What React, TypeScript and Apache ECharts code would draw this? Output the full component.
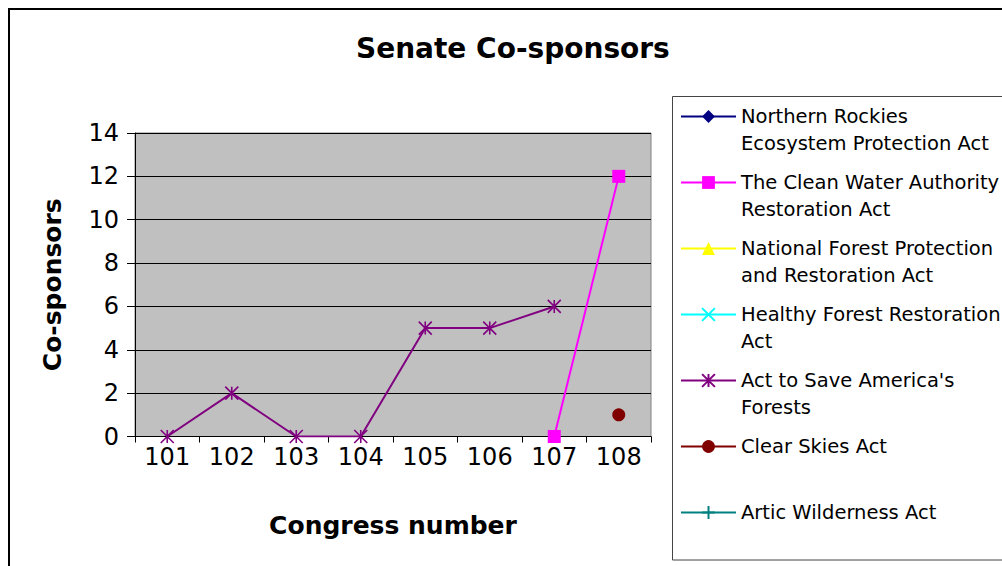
import { useEffect, useRef } from "react";
import * as echarts from "echarts";

// Congress numbers along the x axis
const congresses = ["101", "102", "103", "104", "105", "106", "107", "108"];

// Senate co-sponsor counts per bill (null = not introduced in that Congress)
const northernRockies: (number | null)[] = [null, null, null, null, null, null, null, null];
const cleanWater: (number | null)[] = [null, null, null, null, null, null, 0, 12];
const nationalForest: (number | null)[] = [null, null, null, null, null, null, null, null];
const healthyForest: (number | null)[] = [null, null, null, null, null, null, null, null];
const saveForests: (number | null)[] = [0, 2, 0, 0, 5, 5, 6, null];
const clearSkies: (number | null)[] = [null, null, null, null, null, null, null, 1];
const articWilderness: (number | null)[] = [null, null, null, null, null, null, null, null];

const billNames = [
  "Northern Rockies Ecosystem Protection Act",
  "The Clean Water Authority Restoration Act",
  "National Forest Protection and Restoration Act",
  "Healthy Forest Restoration Act",
  "Act to Save America's Forests",
  "Clear Skies Act",
  "Artic Wilderness Act",
];

// Legend labels as wrapped in the key box. Each label gets an empty leading
// line so the key symbol lines up with the first text line.
const legendLines: Record<string, string[]> = {
  "Northern Rockies Ecosystem Protection Act": ["Northern Rockies", "Ecosystem Protection Act"],
  "The Clean Water Authority Restoration Act": ["The Clean Water Authority", "Restoration Act"],
  "National Forest Protection and Restoration Act": ["National Forest Protection", "and Restoration Act"],
  "Healthy Forest Restoration Act": ["Healthy Forest Restoration", "Act"],
  "Act to Save America's Forests": ["Act to Save America's", "Forests"],
  "Clear Skies Act": ["Clear Skies Act", " "],
  "Artic Wilderness Act": ["Artic Wilderness Act", " "],
};

const yMin = 0;
const yMax = 14;
const yStep = 2;

const FONT = "'DejaVu Sans', 'Liberation Sans', Arial, sans-serif";

const ASTERISK = "path://M0,0L10,10M10,0L0,10M5,0L5,10";
const CROSS = "path://M0,0L10,10M10,0L0,10";
const PLUS = "path://M5,0L5,10M0,5L10,5";

function lineSeries(
  name: string,
  data: (number | null)[],
  color: string,
  symbol: string,
  symbolSize: number,
  stroked: boolean
) {
  return {
    type: "line",
    name,
    data,
    symbol,
    symbolSize,
    showSymbol: true,
    connectNulls: false,
    lineStyle: { color, width: 2 },
    itemStyle: stroked
      ? { color, borderColor: color, borderWidth: 1.6 }
      : { color, borderWidth: 0 },
    emphasis: { disabled: true },
  };
}

export default function App() {
  const ref = useRef<HTMLDivElement>(null);

  useEffect(() => {
    if (!ref.current) return;
    const chart = echarts.init(ref.current, null, { renderer: "svg" });

    chart.setOption({
      animation: false,
      backgroundColor: "#ffffff",
      title: {
        text: "Senate Co-sponsors",
        left: 356,
        top: 34,
        padding: 0,
        textStyle: {
          fontFamily: FONT,
          fontWeight: "bold",
          fontSize: 28,
          color: "#000",
        },
      },
      legend: {
        orient: "vertical",
        left: 680,
        top: 76,
        padding: 0,
        itemWidth: 55,
        itemHeight: 16,
        itemGap: -15,
        selectedMode: false,
        data: billNames,
        formatter: (name: string) => "\n" + (legendLines[name] ?? [name, " "]).join("\n"),
        textStyle: {
          fontFamily: FONT,
          fontSize: 19.5,
          lineHeight: 27,
          color: "#000",
        },
      },
      grid: {
        left: 135,
        top: 133,
        right: 351,
        bottom: 129.5,
        show: true,
        backgroundColor: "#C0C0C0",
        borderColor: "#808080",
        borderWidth: 1,
      },
      xAxis: {
        type: "category",
        data: congresses,
        boundaryGap: true,
        name: "Congress number",
        nameLocation: "middle",
        nameGap: 76,
        nameTextStyle: {
          fontFamily: FONT,
          fontWeight: "bold",
          fontSize: 25,
          color: "#000",
        },
        axisLine: { show: true, lineStyle: { color: "#000", width: 1 } },
        axisTick: { show: true, length: 6, lineStyle: { color: "#000" } },
        axisLabel: {
          fontFamily: FONT,
          fontSize: 24,
          color: "#000",
          margin: 8,
        },
        splitLine: { show: false },
      },
      yAxis: {
        type: "value",
        min: yMin,
        max: yMax,
        interval: yStep,
        name: "Co-sponsors",
        nameLocation: "middle",
        nameGap: 70,
        nameTextStyle: {
          fontFamily: FONT,
          fontWeight: "bold",
          fontSize: 25,
          color: "#000",
        },
        axisLine: { show: true, lineStyle: { color: "#000", width: 1 } },
        axisTick: { show: true, length: 8, lineStyle: { color: "#000" } },
        axisLabel: {
          fontFamily: FONT,
          fontSize: 24,
          color: "#000",
          margin: 16,
        },
        splitLine: { show: true, lineStyle: { color: "#000", width: 1 } },
      },
      graphic: [
        {
          type: "rect",
          shape: { x: 9, y: 9, width: 1100, height: 700 },
          style: { fill: "none", stroke: "#000", lineWidth: 2 },
          silent: true,
        },
        {
          type: "rect",
          shape: { x: 672.5, y: 96.5, width: 360, height: 463.5 },
          style: { fill: "none", stroke: "#444", lineWidth: 1 },
          silent: true,
        },
      ],
      series: [
        lineSeries(billNames[0], northernRockies, "#000080", "diamond", 13, false),
        lineSeries(billNames[1], cleanWater, "#FF00FF", "rect", 13, false),
        lineSeries(billNames[2], nationalForest, "#FFFF00", "triangle", 13, false),
        lineSeries(billNames[3], healthyForest, "#00FFFF", CROSS, 12, true),
        lineSeries(billNames[4], saveForests, "#800080", ASTERISK, 13, true),
        lineSeries(billNames[5], clearSkies, "#800000", "circle", 13, false),
        lineSeries(billNames[6], articWilderness, "#008080", PLUS, 12, true),
      ],
    });

    return () => chart.dispose();
  }, []);

  return (
    <div
      ref={ref}
      style={{ position: "absolute", left: 0, top: 0, width: 1002, height: 566 }}
    />
  );
}
